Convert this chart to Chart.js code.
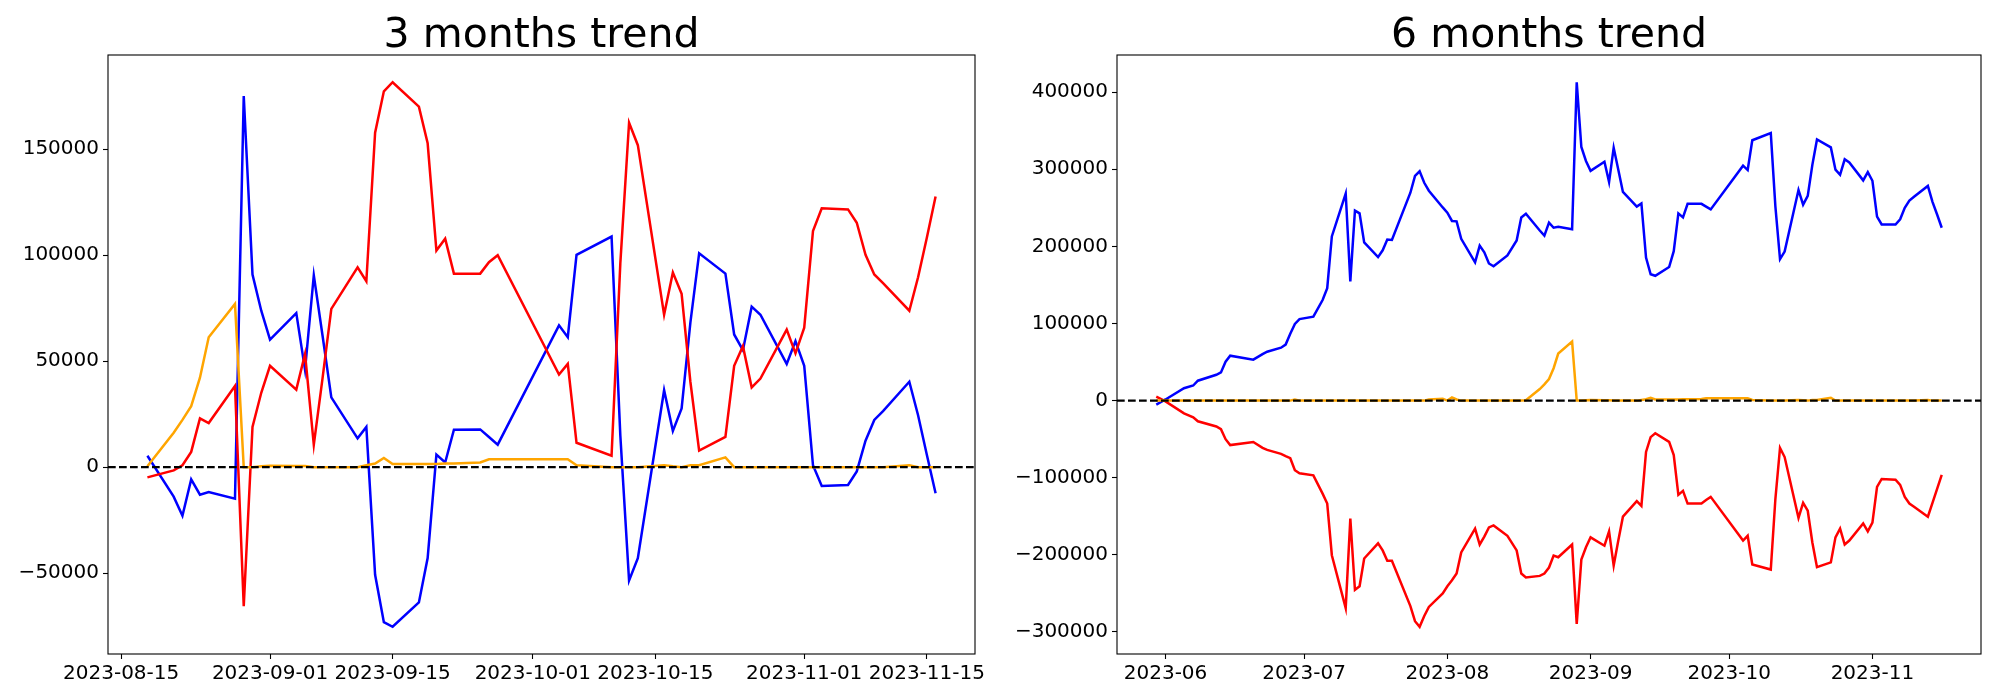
<!DOCTYPE html>
<html>
<head>
<meta charset="utf-8">
<script src="https://cdn.jsdelivr.net/npm/chart.js@4.4.0/dist/chart.umd.min.js"></script>
<style>
    body { margin: 0; background: #fff; }
    #wrap { position: relative; width: 2000px; height: 700px; }
    canvas { position: absolute; top: 0; }
</style>
</head>
<body>
<div id="wrap">
    <canvas id="chart3m" width="1000" height="700" style="left:0px"></canvas>
    <canvas id="chart6m" width="1000" height="700" style="left:1000px"></canvas>
</div>
<script>
// 3 months trend
const dates3m = [
    '2023-08-18', '2023-08-21', '2023-08-22', '2023-08-23', '2023-08-24', '2023-08-25',
    '2023-08-28', '2023-08-29', '2023-08-30', '2023-08-31', '2023-09-01',
    '2023-09-04', '2023-09-05', '2023-09-06', '2023-09-07', '2023-09-08',
    '2023-09-11', '2023-09-12', '2023-09-13', '2023-09-14', '2023-09-15',
    '2023-09-18', '2023-09-19', '2023-09-20', '2023-09-21', '2023-09-22',
    '2023-09-25', '2023-09-26', '2023-09-27',
    '2023-10-04', '2023-10-05', '2023-10-06',
    '2023-10-10', '2023-10-11', '2023-10-12', '2023-10-13',
    '2023-10-16', '2023-10-17', '2023-10-18', '2023-10-19', '2023-10-20',
    '2023-10-23', '2023-10-24', '2023-10-25', '2023-10-26', '2023-10-27',
    '2023-10-30', '2023-10-31', '2023-11-01', '2023-11-02', '2023-11-03',
    '2023-11-06', '2023-11-07', '2023-11-08', '2023-11-09', '2023-11-10',
    '2023-11-13', '2023-11-14', '2023-11-15', '2023-11-16'
];
const blue3m = [
    5400, -13900, -22900, -5800, -13000, -11700,
    -14900, 175100, 90900, 73800, 60200,
    72700, 45900, 90500, 62000, 32900,
    13600, 19000, -50800, -73100, -75300,
    -63800, -42900, 5900, 2200, 17700,
    17800, 14200, 10600,
    66900, 61300, 100200,
    108800, 15000, -53500, -42900,
    36300, 17100, 27700, 68200, 100900,
    91300, 62600, 55200, 75700, 71900,
    48700, 59500, 47800, 900, -8900,
    -8400, -2000, 12500, 22300, 26400,
    40300, 24500, 5900, -12300
];
const red3m = [
    -4800, -1500, 900, 7200, 23000, 20800,
    38300, -65600, 19000, 35100, 47800,
    36600, 53400, 10600, 42000, 74700,
    94300, 87700, 157800, 177300, 181600,
    170100, 152800, 102200, 107800, 91300,
    91300, 96700, 100000,
    43700, 48700, 11500,
    5400, 96000, 162500, 151900,
    71900, 91800, 81800, 40300, 7800,
    14300, 47800, 57100, 37600, 41800,
    64900, 53700, 65800, 111400, 122100,
    121600, 115300, 100200, 90900, 86800,
    73800, 89600, 108200, 127700
];
const orange3m = [
    400, 16200, 22300, 28800, 42200, 61300,
    77000, 0, 0, 400, 700,
    600, 600, 0, 0, 0,
    0, 900, 1700, 4300, 1500,
    1500, 1500, 1500, 1700, 1700,
    2200, 3700, 3700,
    3700, 3700, 900,
    0, 0, 0, 0,
    900, 400, 0, 900, 900,
    4600, 0, 0, 0, 0,
    0, 0, 0, 0, 0,
    0, 0, 0, 0, 0,
    900, 0, 0, 0
];
const xTicks3m = ['2023-08-15', '2023-09-01', '2023-09-15', '2023-10-01', '2023-10-15', '2023-11-01', '2023-11-15'];
const xLabels3m = ['2023-08-15', '2023-09-01', '2023-09-15', '2023-10-01', '2023-10-15', '2023-11-01', '2023-11-15'];
const yTicks3m = [-50000, 0, 50000, 100000, 150000];

// 6 months trend
const dates6m = [
    '2023-05-30', '2023-06-01', '2023-06-05', '2023-06-07', '2023-06-08',
    '2023-06-12', '2023-06-13', '2023-06-14', '2023-06-15',
    '2023-06-20', '2023-06-22', '2023-06-23',
    '2023-06-26', '2023-06-27', '2023-06-28', '2023-06-29', '2023-06-30',
    '2023-07-03', '2023-07-05', '2023-07-06', '2023-07-07',
    '2023-07-10', '2023-07-11', '2023-07-12', '2023-07-13', '2023-07-14',
    '2023-07-17', '2023-07-18', '2023-07-19', '2023-07-20',
    '2023-07-24', '2023-07-25', '2023-07-26', '2023-07-27', '2023-07-28',
    '2023-07-31', '2023-08-01', '2023-08-02', '2023-08-03', '2023-08-04',
    '2023-08-07', '2023-08-08', '2023-08-09', '2023-08-10', '2023-08-11',
    '2023-08-14', '2023-08-16', '2023-08-17', '2023-08-18',
    '2023-08-21', '2023-08-22', '2023-08-23', '2023-08-24', '2023-08-25',
    '2023-08-28', '2023-08-29', '2023-08-30', '2023-08-31', '2023-09-01',
    '2023-09-04', '2023-09-05', '2023-09-06', '2023-09-07', '2023-09-08',
    '2023-09-11', '2023-09-12', '2023-09-13', '2023-09-14', '2023-09-15',
    '2023-09-18', '2023-09-19', '2023-09-20', '2023-09-21', '2023-09-22',
    '2023-09-25', '2023-09-26', '2023-09-27',
    '2023-10-04', '2023-10-05', '2023-10-06',
    '2023-10-10', '2023-10-11', '2023-10-12', '2023-10-13',
    '2023-10-16', '2023-10-17', '2023-10-18', '2023-10-19', '2023-10-20',
    '2023-10-23', '2023-10-24', '2023-10-25', '2023-10-26', '2023-10-27',
    '2023-10-30', '2023-10-31', '2023-11-01', '2023-11-02', '2023-11-03',
    '2023-11-06', '2023-11-07', '2023-11-08', '2023-11-09', '2023-11-10',
    '2023-11-13', '2023-11-14', '2023-11-15', '2023-11-16'
];
const blue6m = [
    -5200, 1500, 16000, 19600, 25800,
    33500, 36600, 50500, 58300,
    53100, 60300, 63400,
    68600, 72700, 86600, 99500, 105700,
    108800, 130400, 145900, 212900,
    268600, 154700, 246400, 242800, 205200,
    186100, 194900, 208800, 208300,
    269600, 291300, 297400, 282500, 272200,
    250500, 243800, 233000, 232500, 209800,
    179400, 201000, 192300, 177800, 174200,
    188200, 207700, 237600, 242300,
    220600, 213900, 230900, 224200, 225300,
    222200, 412900, 328900, 310800, 298000,
    309800, 283500, 327900, 299500, 270600,
    251600, 255700, 185600, 163900, 161900,
    173200, 193800, 242800, 237600, 255200,
    255200, 251600, 248000,
    304700, 299000, 337700,
    346900, 251600, 183500, 193300,
    273200, 254100, 265500, 305700, 338700,
    328400, 299500, 292800, 312900, 308800,
    285600, 296400, 285100, 238700, 228400,
    228400, 235100, 250000, 259300, 264400,
    278400, 257800, 241300, 224200
];
const red6m = [
    5200, -1000, -16500, -21700, -26800,
    -33500, -37100, -50000, -57700,
    -53600, -61300, -63900,
    -69100, -72000, -74700, -90200, -94300,
    -96900, -120600, -133500, -200500,
    -269100, -153100, -245300, -240700, -204700,
    -185100, -194300, -207700, -207700,
    -266500, -286100, -293300, -279400, -267500,
    -250000, -240700, -233000, -224200, -196900,
    -166000, -186600, -176300, -164400, -161900,
    -175300, -194300, -224200, -229400,
    -227300, -224200, -216500, -201000, -203100,
    -186600, -289700, -206200, -190200, -177300,
    -188200, -169600, -213900, -181500, -150500,
    -130400, -136600, -66500, -47400, -42300,
    -53600, -70600, -122200, -117000, -133500,
    -133500, -128900, -124800,
    -181500, -175300, -212400,
    -219100, -127300, -61300, -73200,
    -152100, -132500, -142800, -184000, -216000,
    -209800, -177300, -166000, -186600, -181500,
    -159300, -169600, -158300, -111900, -101600,
    -102600, -109300, -124800, -133500, -137600,
    -150500, -132500, -114400, -96400
];
const orange6m = [
    0, 0, 0, 0, 0,
    0, 0, 0, 0,
    0, 0, 0,
    0, 0, 0, 1500, 0,
    0, 0, 0, 0,
    0, 0, 0, 0, 0,
    0, 0, 0, 0,
    0, 0, 0, 0, 1500,
    2500, 0, 4000, 1500, 0,
    0, 0, 0, 0, 0,
    0, 0, 0, 400,
    15000, 21000, 28000, 42000, 61000,
    76500, 0, 0, 400, 700,
    600, 600, 0, 0, 0,
    0, 900, 1700, 3600, 1500,
    1500, 1500, 1500, 1700, 1700,
    2200, 3100, 3100,
    3100, 3100, 900,
    0, 0, 0, 0,
    900, 400, 0, 900, 900,
    3600, 0, 0, 0, 0,
    0, 0, 0, 0, 0,
    0, 0, 0, 0, 0,
    900, 0, 0, 0
];
const xTicks6m = ['2023-06-01', '2023-07-01', '2023-08-01', '2023-09-01', '2023-10-01', '2023-11-01'];
const xLabels6m = ['2023-06', '2023-07', '2023-08', '2023-09', '2023-10', '2023-11'];
const yTicks6m = [-300000, -200000, -100000, 0, 100000, 200000, 300000, 400000];

const FONT = 'DejaVu Sans';

function dayNum(s) {
    const p = s.split('-').map(Number);
    return Date.UTC(p[0], p[1] - 1, p[2]) / 86400000;
}

// matplotlib style 5% margins
function padRange(values) {
    const lo = Math.min(...values);
    const hi = Math.max(...values);
    const m = (hi - lo) * 0.05;
    return [lo - m, hi + m];
}

function fmtNum(v) {
    return (v < 0 ? '\u2212' : '') + Math.abs(v);
}

// zero line + box around the axes
const framePlugin = {
    id: 'frame',
    afterDatasetsDraw(chart) {
        const { ctx, chartArea: a, scales } = chart;
        const y0 = scales.y.getPixelForValue(0);
        ctx.save();
        ctx.strokeStyle = '#000';
        ctx.lineWidth = 2.2;
        ctx.setLineDash([7.7, 3.3]);
        ctx.beginPath();
        ctx.moveTo(a.left, y0);
        ctx.lineTo(a.right, y0);
        ctx.stroke();
        ctx.setLineDash([]);
        ctx.lineWidth = 1.1;
        ctx.strokeRect(a.left, a.top, a.right - a.left, a.bottom - a.top);
        ctx.restore();
    }
};

function createTrendChart(id, title, dates, blue, red, orange, xTicks, xLabels, yTicks, yWidth, padRight) {
    const xs = dates.map(dayNum);
    const toPoints = vals => vals.map((v, i) => ({ x: xs[i], y: v }));
    const [xMin, xMax] = padRange(xs);
    const [yMin, yMax] = padRange(blue.concat(red, orange));
    const xTickVals = xTicks.map(dayNum);
    const tickFont = { family: FONT, size: 20 };

    return new Chart(document.getElementById(id), {
        type: 'line',
        data: {
            datasets: [
                { data: toPoints(orange), borderColor: '#ffa500' },
                { data: toPoints(red), borderColor: '#ff0000' },
                { data: toPoints(blue), borderColor: '#0000ff' }
            ]
        },
        options: {
            responsive: false,
            animation: false,
            events: [],
            elements: {
                point: { radius: 0 },
                line: { borderWidth: 2.5, tension: 0, fill: false }
            },
            layout: { padding: { left: 0, right: padRight, top: 0, bottom: 0 } },
            plugins: {
                legend: { display: false },
                tooltip: { enabled: false },
                title: {
                    display: true,
                    text: title,
                    color: '#000',
                    fullSize: false,
                    font: { family: FONT, size: 41, weight: 'normal', lineHeight: 0.8 },
                    padding: { top: 20, bottom: 2.2 }
                }
            },
            scales: {
                x: {
                    type: 'linear',
                    min: xMin,
                    max: xMax,
                    afterBuildTicks: s => { s.ticks = xTickVals.map(v => ({ value: v })); },
                    afterFit: s => { s.height = 46; },
                    ticks: {
                        autoSkip: false,
                        maxRotation: 0,
                        minRotation: 0,
                        padding: 3,
                        color: '#000',
                        font: tickFont,
                        callback: (v, i) => xLabels[i]
                    },
                    grid: { drawOnChartArea: false, tickLength: 5, tickColor: '#000', tickWidth: 1.1 },
                    border: { display: false }
                },
                y: {
                    type: 'linear',
                    min: yMin,
                    max: yMax,
                    afterBuildTicks: s => { s.ticks = yTicks.map(v => ({ value: v })); },
                    afterFit: s => { s.width = yWidth; },
                    ticks: {
                        padding: 4,
                        color: '#000',
                        font: tickFont,
                        callback: v => fmtNum(v)
                    },
                    grid: { drawOnChartArea: false, tickLength: 5, tickColor: '#000', tickWidth: 1.1 },
                    border: { display: false }
                }
            }
        },
        plugins: [framePlugin]
    });
}

createTrendChart('chart3m', '3 months trend', dates3m, blue3m, red3m, orange3m, xTicks3m, xLabels3m, yTicks3m, 108, 25);
createTrendChart('chart6m', '6 months trend', dates6m, blue6m, red6m, orange6m, xTicks6m, xLabels6m, yTicks6m, 117, 19);
</script>
</body>
</html>
